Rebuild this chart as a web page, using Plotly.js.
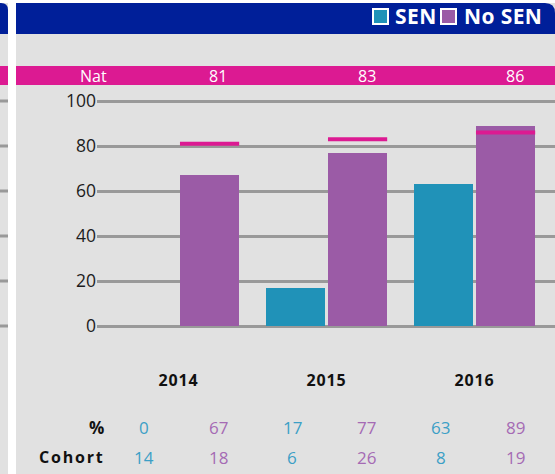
<!DOCTYPE html>
<html><head><meta charset="utf-8">
<script src="https://cdn.plot.ly/plotly-3.0.1.min.js"></script>
<style>html,body{margin:0;padding:0;background:#fff;} #chart{width:555px;height:474px;}</style>
</head><body><div id="chart"></div>
<script>
// ---- data ----
const years = ['2014', '2015', '2016'];
const senPct = [0, 17, 63];
const noSenPct = [67, 77, 89];
const natPct = [81, 83, 86];
const senCohort = [14, 6, 8];
const noSenCohort = [18, 26, 19];
const yTicks = [0, 20, 40, 60, 80, 100];
const seriesNames = ['SEN', 'No SEN'];

// ---- styling ----
const C = {
  sen: '#2092b8', noSen: '#9b5ba6', nat: '#dc1a92', header: '#001f99',
  panel: '#e1e1e1', grid: '#999999', senText: '#3c9fc6', noSenText: '#a56ab4'
};
const FONT = 'Open Sans, Noto Sans, sans-serif';
const W = 555, H = 474, L = 97, R = 0, T = 91, B = 138;
const pw = W - L - R, ph = H - T - B;
const px = x => (x - L) / pw;
const py = y => (H - B - y) / ph;
const BW = 0.4, OFF_SEN = -0.41, OFF_NO = 0.01;
const spaced = (t, s) => `<span style="letter-spacing:${s}px">${t}</span>`;

const traces = [
  {type: 'bar', x: years, y: senPct, name: seriesNames[0], width: BW, offset: OFF_SEN,
   marker: {color: C.sen}, showlegend: false, hoverinfo: 'skip'},
  {type: 'bar', x: years, y: noSenPct, name: seriesNames[1], width: BW, offset: OFF_NO,
   marker: {color: C.noSen}, showlegend: false, hoverinfo: 'skip'}
];

const shapes = [];
const rect = (x0, y0, x1, y1, color, line) => shapes.push({type: 'rect', xref: 'paper', yref: 'paper',
  x0: px(x0), x1: px(x1), y0: py(y1), y1: py(y0), fillcolor: color, line: line || {width: 0}, layer: 'below'});
const pth = (pts, color) => shapes.push({type: 'path', xref: 'paper', yref: 'paper', layer: 'below',
  path: pts, fillcolor: color, line: {width: 0}});
// panels
rect(0, 3, 8, 474, C.panel);
rect(16, 3, 555, 474, C.panel);
// headers with rounded top-right corner
pth(`M${px(16)},${py(34)} L${px(16)},${py(3)} L${px(545)},${py(3)} Q${px(555)},${py(3)} ${px(555)},${py(13)} L${px(555)},${py(34)} Z`, C.header);
pth(`M${px(0)},${py(34)} L${px(0)},${py(3)} L${px(1)},${py(3)} Q${px(8)},${py(3)} ${px(8)},${py(10)} L${px(8)},${py(34)} Z`, C.header);
// national band
rect(0, 66, 8, 85, C.nat);
rect(16, 66, 555, 85, C.nat);
// gridlines continued on the left strip
yTicks.forEach(v => shapes.push({type: 'line', xref: 'paper', yref: 'y', x0: px(0), x1: px(8),
  y0: v, y1: v, line: {color: C.grid, width: 3}, layer: 'below'}));
// national markers on No SEN bars
natPct.forEach((v, i) => shapes.push({type: 'line', xref: 'x', yref: 'y', x0: i + OFF_NO, x1: i + OFF_NO + BW,
  y0: v, y1: v, line: {color: C.nat, width: 4}, layer: 'above'}));

const annotations = [];
const ann = (text, x, y, color, size, bold, xanchor) => annotations.push({text: String(text),
  xref: 'paper', yref: 'paper', x: px(x), y: py(y), xanchor: xanchor || 'center', yanchor: 'middle',
  showarrow: false, font: {family: FONT, size: size, color: color, weight: bold ? 'bold' : 'normal'}});

// legend (in the header bar)
[[C.sen, seriesNames[0], 373, 393], [C.noSen, seriesNames[1], 441, 462]].forEach(([c, n, sx, tx]) => {
  rect(sx, 9, sx + 15, 24, c, {color: '#ffffff', width: 2});
  ann(spaced(n, 0.4), tx, 16.5, '#ffffff', 21, true, 'left');
});

const col = i => 144 + 74.2 * i;
ann('Nat', 93, 76, '#fff', 16, false);
natPct.forEach((v, i) => ann(v, col(2 * i + 1), 76, '#fff', 16, false));
ann('%', 106, 427, '#111', 17, true, 'right');
ann(spaced('Cohort', 1.8), 107, 457, '#111', 16, true, 'right');
years.forEach((y, i) => {
  ann(senPct[i], col(2 * i), 427, C.senText, 17, false);
  ann(noSenPct[i], col(2 * i + 1), 427, C.noSenText, 17, false);
  ann(senCohort[i], col(2 * i), 457, C.senText, 17, false);
  ann(noSenCohort[i], col(2 * i + 1), 457, C.noSenText, 17, false);
});

const layout = {
  width: W, height: H, margin: {l: L, r: R, t: T, b: B, pad: 0},
  paper_bgcolor: '#ffffff', plot_bgcolor: 'rgba(0,0,0,0)',
  font: {family: FONT, color: '#222'},
  showlegend: false,
  xaxis: {type: 'category', range: [-0.5507, 2.5439], showgrid: false, zeroline: false, showline: false,
    tickmode: 'array', tickvals: years, ticktext: years.map(y => spaced(y, 0.8)),
    ticks: '', ticklabelstandoff: 33, tickfont: {family: FONT, size: 16, color: '#111', weight: 'bold'}, fixedrange: true},
  yaxis: {range: [-4.444, 104.444], tickvals: yTicks, showgrid: true, gridcolor: C.grid, gridwidth: 3,
    zeroline: false, showline: false, ticks: '', tickfont: {family: FONT, size: 17.5, color: '#1c1c1c'}, fixedrange: true},
  shapes: shapes, annotations: annotations, bargap: 0, bargroupgap: 0
};

Plotly.newPlot('chart', traces, layout, {displayModeBar: false, staticPlot: true});
</script></body></html>
